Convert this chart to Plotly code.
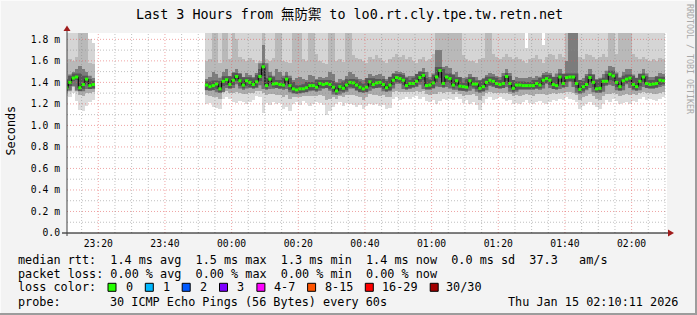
import plotly.graph_objects as go
from datetime import datetime, timedelta

# ---------------- data ----------------
title_text = "Last 3 Hours from 無防禦 to lo0.rt.cly.tpe.tw.retn.net"

y_tick_values = [0.0, 0.2, 0.4, 0.6, 0.8, 1.0, 1.2, 1.4, 1.6, 1.8]
y_tick_labels = ["0.0", "0.2 m", "0.4 m", "0.6 m", "0.8 m", "1.0 m", "1.2 m", "1.4 m", "1.6 m", "1.8 m"]
x_tick_times = ["2026-01-14 23:20", "2026-01-14 23:40", "2026-01-15 00:00", "2026-01-15 00:20",
                "2026-01-15 00:40", "2026-01-15 01:00", "2026-01-15 01:20", "2026-01-15 01:40",
                "2026-01-15 02:00"]
x_tick_labels = ["23:20", "23:40", "00:00", "00:20", "00:40", "01:00", "01:20", "01:40", "02:00"]

# first block of 1-minute samples (ms)
chunk1_start = "2026-01-14 23:10:00"
chunk1_median = [1.35, 1.40, 1.44, 1.45, 1.35, 1.38, 1.43, 1.37, 1.38]
chunk1_min = [1.27, 1.26, 1.30, 1.23, 1.14, 1.13, 1.18, 1.22, 1.24]
chunk1_p20 = [1.31, 1.33, 1.36, 1.33, 1.28, 1.27, 1.30, 1.30, 1.31]
chunk1_p40 = [1.32, 1.37, 1.41, 1.42, 1.32, 1.34, 1.39, 1.34, 1.35]
chunk1_p60 = [1.42, 1.46, 1.50, 1.52, 1.55, 1.52, 1.50, 1.43, 1.44]
chunk1_p80 = [1.58, 1.62, 1.60, 1.64, 1.90, 1.90, 1.90, 1.58, 1.57]
chunk1_max = [1.90, 1.90, 1.90, 1.90, 1.90, 1.90, 1.90, 1.80, 1.77]

# second block of 1-minute samples (ms)
chunk2_start = "2026-01-14 23:52:00"
chunk2_median = [
    1.375, 1.36, 1.37, 1.385, 1.34, 1.41, 1.425, 1.38, 1.42, 1.455,
    1.415, 1.375, 1.415, 1.40, 1.38, 1.405, 1.455, 1.545, 1.37, 1.43,
    1.385, 1.39, 1.38, 1.375, 1.43, 1.37, 1.34, 1.33, 1.34, 1.34,
    1.35, 1.37, 1.37, 1.355, 1.39, 1.38, 1.39, 1.38, 1.355, 1.32,
    1.36, 1.345, 1.375, 1.40, 1.395, 1.375, 1.355, 1.34, 1.355, 1.405,
    1.38, 1.395, 1.40, 1.38, 1.35, 1.375, 1.42, 1.445, 1.435, 1.42,
    1.37, 1.39, 1.39, 1.41, 1.445, 1.465, 1.37, 1.375, 1.395, 1.45,
    1.51, 1.39, 1.45, 1.435, 1.375, 1.415, 1.365, 1.36, 1.355, 1.415,
    1.385, 1.385, 1.345, 1.36, 1.40, 1.42, 1.41, 1.39, 1.38, 1.39,
    1.455, 1.39, 1.345, 1.375, 1.375, 1.37, 1.37, 1.37, 1.37, 1.39,
    1.375, 1.42, 1.435, 1.42, 1.38, 1.37, 1.45, 1.39, 1.445, 1.45,
    1.45, 1.39, 1.335, 1.36, 1.38, 1.445, 1.40, 1.34, 1.345, 1.41,
    1.41, 1.475, 1.46, 1.40, 1.36, 1.415, 1.43, 1.44, 1.38, 1.36,
    1.41, 1.45, 1.39, 1.38, 1.385, 1.39, 1.42, 1.415]
chunk2_min = [
    1.20, 1.21, 1.17, 1.16, 1.15, 1.25, 1.26, 1.25, 1.22, 1.21,
    1.23, 1.22, 1.20, 1.22, 1.24, 1.27, 1.26, 1.12, 1.21, 1.19,
    1.22, 1.20, 1.21, 1.15, 1.17, 1.13, 1.20, 1.22, 1.19, 1.23,
    1.21, 1.18, 1.20, 1.22, 1.21, 1.19, 1.10, 1.13, 1.17, 1.20,
    1.22, 1.18, 1.21, 1.20, 1.19, 1.17, 1.19, 1.15, 1.18, 1.20,
    1.19, 1.20, 1.18, 1.19, 1.15, 1.16, 1.25, 1.26, 1.24, 1.25,
    1.26, 1.25, 1.26, 1.27, 1.25, 1.26, 1.23, 1.22, 1.24, 1.20,
    1.23, 1.25, 1.24, 1.25, 1.24, 1.26, 1.25, 1.21, 1.24, 1.20,
    1.22, 1.19, 1.14, 1.21, 1.25, 1.26, 1.24, 1.25, 1.26, 1.25,
    1.23, 1.24, 1.20, 1.21, 1.20, 1.22, 1.24, 1.21, 1.20, 1.22,
    1.23, 1.21, 1.20, 1.22, 1.24, 1.23, 1.25, 1.24, 1.26, 1.25,
    1.24, 1.22, 1.15, 1.18, 1.20, 1.22, 1.19, 1.17, 1.15, 1.20,
    1.24, 1.22, 1.25, 1.23, 1.20, 1.21, 1.22, 1.20, 1.23, 1.22,
    1.25, 1.26, 1.24, 1.25, 1.24, 1.23, 1.25, 1.26]
chunk2_p20 = [
    1.28, 1.27, 1.26, 1.26, 1.25, 1.31, 1.32, 1.30, 1.30, 1.31,
    1.30, 1.29, 1.29, 1.30, 1.30, 1.32, 1.32, 1.30, 1.28, 1.29,
    1.29, 1.28, 1.28, 1.26, 1.28, 1.25, 1.26, 1.26, 1.26, 1.27,
    1.27, 1.27, 1.27, 1.27, 1.28, 1.27, 1.24, 1.25, 1.26, 1.25,
    1.27, 1.26, 1.28, 1.28, 1.28, 1.27, 1.26, 1.24, 1.26, 1.29,
    1.28, 1.28, 1.27, 1.28, 1.26, 1.26, 1.31, 1.32, 1.31, 1.31,
    1.31, 1.31, 1.31, 1.32, 1.31, 1.32, 1.29, 1.28, 1.29, 1.29,
    1.31, 1.30, 1.31, 1.31, 1.29, 1.31, 1.29, 1.27, 1.28, 1.28,
    1.29, 1.27, 1.24, 1.27, 1.30, 1.31, 1.30, 1.30, 1.30, 1.30,
    1.30, 1.29, 1.27, 1.28, 1.27, 1.28, 1.29, 1.28, 1.27, 1.29,
    1.29, 1.29, 1.28, 1.29, 1.30, 1.29, 1.30, 1.30, 1.31, 1.31,
    1.30, 1.28, 1.24, 1.26, 1.27, 1.29, 1.27, 1.25, 1.24, 1.27,
    1.29, 1.29, 1.30, 1.29, 1.27, 1.28, 1.29, 1.28, 1.29, 1.28,
    1.30, 1.31, 1.30, 1.30, 1.29, 1.29, 1.30, 1.31]
chunk2_p40 = [
    1.33, 1.32, 1.33, 1.34, 1.30, 1.37, 1.38, 1.34, 1.38, 1.41,
    1.37, 1.33, 1.37, 1.36, 1.34, 1.36, 1.41, 1.46, 1.33, 1.39,
    1.34, 1.35, 1.34, 1.33, 1.39, 1.33, 1.30, 1.29, 1.30, 1.30,
    1.31, 1.33, 1.33, 1.31, 1.35, 1.34, 1.35, 1.34, 1.31, 1.28,
    1.32, 1.30, 1.33, 1.36, 1.35, 1.33, 1.31, 1.30, 1.31, 1.36,
    1.34, 1.35, 1.36, 1.34, 1.31, 1.33, 1.38, 1.40, 1.39, 1.38,
    1.33, 1.35, 1.35, 1.37, 1.40, 1.42, 1.33, 1.33, 1.35, 1.40,
    1.44, 1.35, 1.40, 1.39, 1.33, 1.37, 1.32, 1.32, 1.31, 1.37,
    1.34, 1.34, 1.30, 1.32, 1.36, 1.38, 1.37, 1.35, 1.34, 1.35,
    1.41, 1.35, 1.30, 1.33, 1.33, 1.33, 1.33, 1.33, 1.33, 1.35,
    1.33, 1.38, 1.39, 1.38, 1.34, 1.33, 1.40, 1.35, 1.40, 1.40,
    1.40, 1.35, 1.29, 1.32, 1.34, 1.40, 1.36, 1.30, 1.30, 1.37,
    1.37, 1.42, 1.41, 1.36, 1.32, 1.37, 1.39, 1.40, 1.34, 1.32,
    1.37, 1.40, 1.35, 1.34, 1.34, 1.35, 1.38, 1.37]
chunk2_p60 = [
    1.43, 1.45, 1.50, 1.48, 1.41, 1.50, 1.52, 1.46, 1.50, 1.52,
    1.48, 1.45, 1.49, 1.47, 1.45, 1.47, 1.52, 1.75, 1.44, 1.50,
    1.45, 1.52, 1.50, 1.44, 1.50, 1.44, 1.42, 1.44, 1.45, 1.43,
    1.42, 1.47, 1.46, 1.43, 1.45, 1.44, 1.45, 1.50, 1.48, 1.40,
    1.43, 1.42, 1.46, 1.50, 1.48, 1.45, 1.43, 1.42, 1.44, 1.48,
    1.46, 1.47, 1.48, 1.46, 1.43, 1.45, 1.49, 1.51, 1.50, 1.49,
    1.44, 1.46, 1.46, 1.48, 1.51, 1.53, 1.44, 1.45, 1.47, 1.70,
    1.70, 1.52, 1.55, 1.53, 1.48, 1.50, 1.45, 1.44, 1.43, 1.48,
    1.45, 1.45, 1.42, 1.44, 1.47, 1.49, 1.48, 1.46, 1.45, 1.46,
    1.52, 1.46, 1.42, 1.45, 1.44, 1.44, 1.44, 1.45, 1.44, 1.46,
    1.44, 1.49, 1.50, 1.49, 1.45, 1.45, 1.52, 1.48, 1.60, 1.90,
    1.90, 1.90, 1.42, 1.44, 1.46, 1.52, 1.47, 1.42, 1.43, 1.48,
    1.48, 1.55, 1.54, 1.48, 1.44, 1.50, 1.52, 1.52, 1.46, 1.44,
    1.48, 1.52, 1.46, 1.45, 1.45, 1.46, 1.49, 1.48]
chunk2_p80 = [
    1.60, 1.62, 1.90, 1.90, 1.58, 1.90, 1.90, 1.62, 1.90, 1.80,
    1.64, 1.62, 1.60, 1.63, 1.61, 1.58, 1.60, 1.90, 1.62, 1.60,
    1.63, 1.90, 1.90, 1.60, 1.59, 1.58, 1.90, 1.90, 1.90, 1.62,
    1.60, 1.90, 1.90, 1.66, 1.60, 1.58, 1.57, 1.90, 1.90, 1.60,
    1.62, 1.59, 1.90, 1.90, 1.65, 1.63, 1.62, 1.60, 1.58, 1.64,
    1.62, 1.65, 1.63, 1.60, 1.58, 1.62, 1.64, 1.66, 1.64, 1.65,
    1.62, 1.64, 1.60, 1.58, 1.62, 1.64, 1.60, 1.62, 1.66, 1.90,
    1.90, 1.90, 1.90, 1.90, 1.90, 1.90, 1.90, 1.65, 1.62, 1.60,
    1.60, 1.58, 1.62, 1.63, 1.90, 1.90, 1.66, 1.64, 1.62, 1.64,
    1.66, 1.64, 1.62, 1.64, 1.62, 1.60, 1.58, 1.62, 1.63, 1.65,
    1.62, 1.58, 1.64, 1.66, 1.65, 1.62, 1.66, 1.64, 1.90, 1.90,
    1.90, 1.90, 1.64, 1.62, 1.66, 1.65, 1.64, 1.62, 1.64, 1.66,
    1.64, 1.90, 1.90, 1.66, 1.90, 1.90, 1.90, 1.90, 1.66, 1.64,
    1.62, 1.64, 1.62, 1.60, 1.62, 1.60, 1.63, 1.62]
chunk2_max = [
    1.90, 1.90, 1.90, 1.90, 1.90, 1.90, 1.90, 1.90, 1.90, 1.90,
    1.90, 1.90, 1.90, 1.90, 1.90, 1.90, 1.90, 1.90, 1.90, 1.90,
    1.90, 1.90, 1.90, 1.90, 1.90, 1.90, 1.90, 1.90, 1.90, 1.90,
    1.90, 1.90, 1.90, 1.90, 1.90, 1.90, 1.90, 1.90, 1.90, 1.90,
    1.90, 1.90, 1.90, 1.90, 1.90, 1.90, 1.90, 1.90, 1.90, 1.90,
    1.90, 1.90, 1.90, 1.90, 1.90, 1.90, 1.90, 1.90, 1.90, 1.90,
    1.90, 1.90, 1.90, 1.90, 1.90, 1.90, 1.90, 1.90, 1.90, 1.90,
    1.90, 1.90, 1.90, 1.90, 1.90, 1.90, 1.90, 1.90, 1.90, 1.90,
    1.90, 1.90, 1.90, 1.90, 1.90, 1.90, 1.90, 1.90, 1.90, 1.90,
    1.90, 1.90, 1.90, 1.90, 1.90, 1.90, 1.72, 1.90, 1.90, 1.90,
    1.90, 1.75, 1.90, 1.90, 1.90, 1.90, 1.90, 1.90, 1.90, 1.90,
    1.90, 1.90, 1.90, 1.90, 1.90, 1.90, 1.90, 1.90, 1.90, 1.90,
    1.90, 1.90, 1.90, 1.90, 1.90, 1.90, 1.90, 1.90, 1.90, 1.90,
    1.90, 1.90, 1.90, 1.90, 1.90, 1.90, 1.90, 1.90]

legend_rtt = "median rtt:  1.4 ms avg  1.5 ms max  1.3 ms min  1.4 ms now  0.0 ms sd  37.3   am/s"
legend_loss = "packet loss: 0.00 % avg  0.00 % max  0.00 % min  0.00 % now"
legend_color_head = "loss color:"
loss_labels = ["0", "1", "2", "3", "4-7", "8-15", "16-29", "30/30"]
loss_colors = ["#26ff00", "#00b8ff", "#0059ff", "#7e00ff", "#ff00ff", "#ff5500", "#ff0000", "#a10000"]
probe_head = "probe:"
probe_text = "30 ICMP Echo Pings (56 Bytes) every 60s"
stamp_text = "Thu Jan 15 02:10:11 2026"
side_text = "RRDTOOL / TOBI OETIKER"

# ---------------- geometry / style ----------------
W, H = 697, 315
PL, PT, PW, PH = 67, 33, 600, 200
X_START = datetime(2026, 1, 14, 23, 10, 37)
X_END = X_START + timedelta(hours=3)
Y_MAX = 1.859
MONO = "DejaVu Sans Mono, Noto Sans CJK TC, monospace"
BG = "#f3f3f3"
BAND_COLORS = ["#dcdcdc", "#ababab", "#7c7c7c", "#b9b9b9", "#d5d5d5"]
GREEN = "#26ff00"
STEP = timedelta(minutes=1)


def px(x):
    return (x - PL) / PW


def py(y):
    return (PT + PH - y) / PH


fig = go.Figure()

chunks = [
    (chunk1_start, chunk1_median, [chunk1_min, chunk1_p20, chunk1_p40, chunk1_p60, chunk1_p80, chunk1_max]),
    (chunk2_start, chunk2_median, [chunk2_min, chunk2_p20, chunk2_p40, chunk2_p60, chunk2_p80, chunk2_max]),
]

step_x, step_y, seg_x, seg_y = [], [], [], []
for start, med, q in chunks:
    t0 = datetime.fromisoformat(start)
    starts = [t0 + i * STEP for i in range(len(med))]
    centers = [s + STEP / 2 for s in starts]
    # smoke bands
    for b in range(5):
        lo, hi = q[b], q[b + 1]
        fig.add_trace(go.Bar(
            x=centers, y=[h - l for l, h in zip(lo, hi)], base=lo,
            width=60500, marker=dict(color=BAND_COLORS[b], line=dict(width=0)),
            hoverinfo="skip", showlegend=False))
    step_x += starts + [starts[-1] + STEP, None]
    step_y += list(med) + [med[-1], None]
    for s, m in zip(starts, med):
        seg_x += [s, s + STEP, None]
        seg_y += [m, m, None]

# darker core of the smoke right around the median
fig.add_trace(go.Scatter(x=step_x, y=step_y, mode="lines",
                         line=dict(color="rgba(40,40,40,0.45)", width=7, shape="hv"),
                         connectgaps=False, hoverinfo="skip", showlegend=False))
# thin black step connectors of the median
fig.add_trace(go.Scatter(x=step_x, y=step_y, mode="lines", line=dict(color="#000000", width=1, shape="hv"),
                         connectgaps=False, hoverinfo="skip", showlegend=False))
# green median segments
fig.add_trace(go.Scatter(x=seg_x, y=seg_y, mode="lines", line=dict(color=GREEN, width=3),
                         connectgaps=False, hoverinfo="skip", showlegend=False))

shapes = []
# grid (drawn above the smoke like rrdtool does)
MAJOR = "rgba(225,90,90,0.55)"
MINOR = "rgba(140,140,140,0.55)"
for v in y_tick_values[1:]:
    shapes.append(dict(type="line", xref="paper", yref="y", x0=0, x1=1, y0=v, y1=v,
                       line=dict(color=MAJOR, width=1, dash="1px,2px"), layer="above"))
for k in range(1, 19, 2):
    v = k / 10
    shapes.append(dict(type="line", xref="paper", yref="y", x0=0, x1=1, y0=v, y1=v,
                       line=dict(color=MINOR, width=1, dash="1px,2px"), layer="above"))
major_times = [datetime.fromisoformat(t) for t in x_tick_times]
t = datetime(2026, 1, 14, 23, 15)
while t < X_END:
    col = MAJOR if t in major_times else MINOR
    shapes.append(dict(type="line", xref="x", yref="paper", x0=t, x1=t, y0=0, y1=1,
                       line=dict(color=col, width=1, dash="1px,2px"), layer="above"))
    t += timedelta(minutes=5)

# axes lines and arrows
shapes.append(dict(type="line", xref="paper", yref="paper", x0=px(62), x1=px(668), y0=py(233), y1=py(233),
                   line=dict(color="#000000", width=1), layer="above"))
shapes.append(dict(type="line", xref="paper", yref="paper", x0=px(67), x1=px(67), y0=py(236), y1=py(31),
                   line=dict(color="#404040", width=1), layer="above"))
shapes.append(dict(type="path", xref="paper", yref="paper",
                   path=f"M {px(63.5)} {py(31)} L {px(70.5)} {py(31)} L {px(67)} {py(25.5)} Z",
                   fillcolor="#a01c1c", line=dict(width=0), layer="above"))
shapes.append(dict(type="path", xref="paper", yref="paper",
                   path=f"M {px(668)} {py(229.5)} L {px(668)} {py(236.5)} L {px(674)} {py(233)} Z",
                   fillcolor="#a01c1c", line=dict(width=0), layer="above"))

# frame shading
shapes.append(dict(type="rect", xref="paper", yref="paper", x0=px(695), x1=px(697), y0=py(0), y1=py(315),
                   fillcolor="#9c9c9c", line=dict(width=0), layer="above"))
shapes.append(dict(type="rect", xref="paper", yref="paper", x0=px(0), x1=px(697), y0=py(313), y1=py(315),
                   fillcolor="#9c9c9c", line=dict(width=0), layer="above"))
shapes.append(dict(type="rect", xref="paper", yref="paper", x0=px(0), x1=px(695), y0=py(0), y1=py(1),
                   fillcolor="#fbfbfb", line=dict(width=0), layer="above"))
shapes.append(dict(type="rect", xref="paper", yref="paper", x0=px(0), x1=px(1), y0=py(0), y1=py(313),
                   fillcolor="#fbfbfb", line=dict(width=0), layer="above"))

# loss colour boxes
box_left = [108, 145.3, 182.2, 219.5, 256.9, 307.6, 365.3, 430.2]
label_left = [123.6, 160.9, 197.8, 234.7, 272.0, 323.1, 380.0, 444.4]
for bx, c in zip(box_left, loss_colors):
    shapes.append(dict(type="rect", xref="paper", yref="paper", x0=px(bx), x1=px(bx + 8),
                       y0=py(291.3), y1=py(283.3), fillcolor=c, line=dict(color="#000000", width=1),
                       layer="above"))

ann = []


def text(x, y, s, size=11.8, xanchor="left", angle=0, color="#000000"):
    ann.append(dict(x=px(x), y=py(y), xref="paper", yref="paper", text=s.replace(" ", "\u00a0"),
                    showarrow=False, xanchor=xanchor, yanchor="middle", textangle=angle,
                    font=dict(family=MONO, size=size, color=color)))


text(349, 15, title_text, size=13.4, xanchor="center")
text(10.5, 131, "Seconds", size=11.8, xanchor="center", angle=-90)
text(690, 59, side_text, size=8.3, xanchor="center", angle=90, color="#a8a8a8")
text(16, 259.5, legend_rtt)
text(16, 273.5, legend_loss)
text(16, 287.3, legend_color_head)
for lx, lab in zip(label_left, loss_labels):
    text(lx, 287.3, lab)
text(16, 301.5, probe_head)
text(108, 301.5, probe_text)
text(680, 301.5, stamp_text, xanchor="right")

fig.update_layout(
    width=W, height=H, autosize=False,
    margin=dict(l=PL, r=W - PL - PW, t=PT, b=H - PT - PH, pad=0),
    paper_bgcolor=BG, plot_bgcolor="#ffffff",
    barmode="overlay", bargap=0, showlegend=False,
    shapes=shapes, annotations=ann,
    xaxis=dict(type="date", range=[X_START, X_END], tickvals=major_times, ticktext=x_tick_labels,
               showgrid=False, zeroline=False, showline=False, ticks="", ticklabelstandoff=3,
               tickfont=dict(family=MONO, size=9.7, color="#000000"), fixedrange=True),
    yaxis=dict(range=[0, Y_MAX], tickvals=y_tick_values, ticktext=y_tick_labels,
               showgrid=False, zeroline=False, showline=False, ticks="", ticklabelstandoff=6,
               tickfont=dict(family=MONO, size=9.7, color="#000000"), fixedrange=True),
)

fig.write_html("out.html", config={"displayModeBar": False})
